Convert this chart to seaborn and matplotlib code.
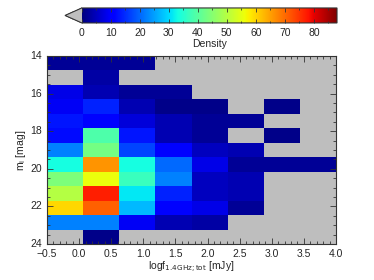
import numpy as np
import pandas as pd
import matplotlib
import matplotlib.pyplot as plt
from matplotlib.ticker import MultipleLocator, FixedLocator
import seaborn as sns

# --- data: density per (m_i, logf) bin, -1 = empty bin ---
x_edges_lo, x_edges_hi, n_x = -0.5, 4.0, 8
y_edges_lo, y_edges_hi, n_y = 14.0, 24.0, 13
x_ticks = [-0.5, 0.0, 0.5, 1.0, 1.5, 2.0, 2.5, 3.0, 3.5, 4.0]
y_ticks = [14, 16, 18, 20, 22, 24]
cbar_ticks = [0, 10, 20, 30, 40, 50, 60, 70, 80]

# rows top (m=14) -> bottom (m=24), columns logf -0.5 -> 4.0
density = [
    [2, 2, 2, -1, -1, -1, -1, -1],
    [-1, 3, -1, -1, -1, -1, -1, -1],
    [8, 4, 2, 2, -1, -1, -1, -1],
    [9, 14, 4, 1, 1, -1, 1, -1],
    [13, 11, 7, 4, 2, 2, -1, -1],
    [12, 39, 13, 4, 2, -1, 1, -1],
    [22, 43, 17, 11, 5, 4, -1, -1],
    [33, 66, 33, 20, 8, 2, 2, 2],
    [44, 56, 37, 22, 5, 4, -1, -1],
    [50, 77, 31, 14, 5, 4, -1, -1],
    [60, 71, 27, 11, 8, 2, -1, -1],
    [22, 22, 9, 4, 3, -1, -1, -1],
    [-1, 1, -1, -1, -1, -1, -1, -1],
]
df = pd.DataFrame(density)

sns.set_style("ticks")
plt.rcParams['font.family'] = ['Liberation Sans', 'DejaVu Sans']
plt.rcParams['mathtext.default'] = 'regular'
plt.rcParams['axes.axisbelow'] = False

cmap = matplotlib.colormaps['jet'].copy()
cmap.set_under('#bebebe')

fig = plt.figure(figsize=(3.74, 2.80), dpi=100)
ax = fig.add_axes([0.1257, 0.1286, 0.7727, 0.6714])
cax = fig.add_axes([0.1738, 0.918, 0.7273, 0.0536])

sns.heatmap(df, ax=ax, cbar_ax=cax, cmap=cmap, vmin=0, vmax=88,
            cbar_kws={'orientation': 'horizontal', 'extend': 'min',
                      'extendfrac': 0.066})

# map data coords onto heatmap cell coords
dx = (x_edges_hi - x_edges_lo) / n_x
dy = (y_edges_hi - y_edges_lo) / n_y
fx = lambda v: (np.asarray(v) - x_edges_lo) / dx
fy = lambda v: (np.asarray(v) - y_edges_lo) / dy

ax.set_axisbelow(False)
ax.set_xticks(fx(x_ticks))
ax.set_xticklabels([f'{v:.1f}'.replace('-', '\u2212') for v in x_ticks], rotation=0)
ax.set_yticks(fy(y_ticks))
ax.set_yticklabels([str(v) for v in y_ticks], rotation=0)
ax.xaxis.set_minor_locator(FixedLocator(fx(np.arange(-0.5, 4.01, 0.1))))
ax.yaxis.set_minor_locator(FixedLocator(fy(np.arange(14, 24.01, 0.5))))
ax.set_xlim(0, n_x)
ax.set_ylim(n_y, 0)
for s in ax.spines.values():
    s.set_visible(True)
    s.set_color('#333333')
    s.set_linewidth(0.8)
ax.tick_params(which='both', top=True, right=True, bottom=True, left=True,
               direction='in', labelsize=7.5, color='#333333', width=0.6)
ax.tick_params(which='major', length=4)
ax.tick_params(which='minor', length=2)
ax.set_xlabel(r'logf$_{\mathrm{1.4GHz;tot}}$ [mJy]', fontsize=7.5, labelpad=1)
ax.set_ylabel(r'm$_{\mathrm{i}}$ [mag]', fontsize=7.5, labelpad=2)

cb = ax.collections[0].colorbar
cb.ax.set_axisbelow(False)
cb.set_ticks(cbar_ticks)
cb.ax.xaxis.set_minor_locator(MultipleLocator(5))
cb.ax.xaxis.set_ticks_position('both')
cb.ax.tick_params(which='both', direction='in', top=True, bottom=True,
                  labeltop=False, labelbottom=True,
                  labelsize=7.5, color='#333333', width=0.6)
cb.ax.tick_params(which='major', length=3)
cb.ax.tick_params(which='minor', length=1.5)
cb.ax.xaxis.set_label_position('bottom')
cb.set_label('Density', fontsize=7.5, labelpad=1)
cb.outline.set_edgecolor('#333333')
cb.outline.set_linewidth(0.8)

plt.savefig('out.png', dpi=100)
